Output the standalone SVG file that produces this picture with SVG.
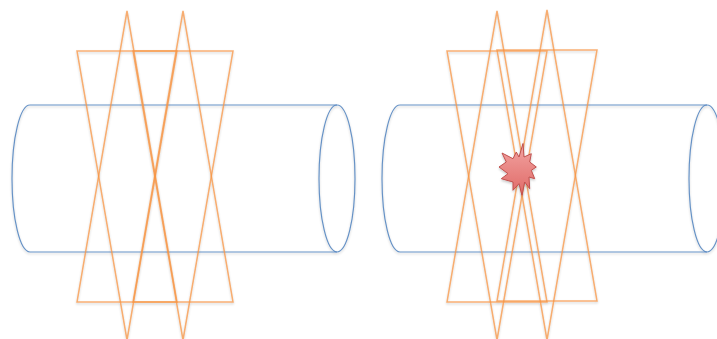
<svg xmlns="http://www.w3.org/2000/svg" width="717" height="339" viewBox="0 0 717 339">
<defs>
<filter id="sh" x="-10%" y="-10%" width="120%" height="120%"><feDropShadow dx="0" dy="1.5" stdDeviation="0.9" flood-color="#000" flood-opacity="0.22"/></filter>
<linearGradient id="burst" x1="0" y1="0" x2="0" y2="1"><stop offset="0" stop-color="#F2A4A2"/><stop offset="1" stop-color="#E06A67"/></linearGradient>
</defs>
<style>
.cyl{fill:none;stroke:#4F81BD;stroke-width:1.2;stroke-opacity:0.85}
.tri{fill:none;stroke:#F79646;stroke-width:1.5;stroke-opacity:0.75}
.boom{fill:url(#burst);stroke:#C0504D;stroke-width:1;stroke-linejoin:miter}
</style>
<rect width="717" height="339" fill="#FFFFFF"/>
<g id="cylinder-left" filter="url(#sh)">
<path class="cyl" d="M30,105 A18,73.5 0 0 0 30,252 L337,252 M30,105 L337,105"/>
<ellipse class="cyl" cx="337" cy="178.5" rx="18" ry="73.5"/>
</g>
<g id="cylinder-right" filter="url(#sh)">
<path class="cyl" d="M400,105 A18,73.5 0 0 0 400,252 L707,252 M400,105 L707,105"/>
<ellipse class="cyl" cx="707" cy="178.5" rx="18" ry="73.5"/>
</g>
<g id="beams-left" filter="url(#sh)">
<polygon class="tri" points="77,51 177,51 127,340"/>
<polygon class="tri" points="127,11 177,302 77,302"/>
<polygon class="tri" points="133,51 233,51 183,340"/>
<polygon class="tri" points="183,11 233,302 133,302"/>
</g>
<g id="beams-right" filter="url(#sh)">
<polygon class="tri" points="447,51 547,51 497,340"/>
<polygon class="tri" points="497,11 547,302 447,302"/>
<polygon class="tri" points="497,50 597,50 547,340"/>
<polygon class="tri" points="547,10 597,301 497,301"/>
</g>
<g id="collision" filter="url(#sh)">
<polygon class="boom" points="502,153 513,158.7 516.3,152 519,157 523,143.5 524,157 531.3,153.7 529.7,162 536.3,167 531.3,170.3 534.7,178.7 529,177 529.7,188.7 524.7,182 522,195.3 519,183.7 513,190.3 513,182 501.3,178.7 508,173.7 499,167 506.3,162"/>
</g>
</svg>
